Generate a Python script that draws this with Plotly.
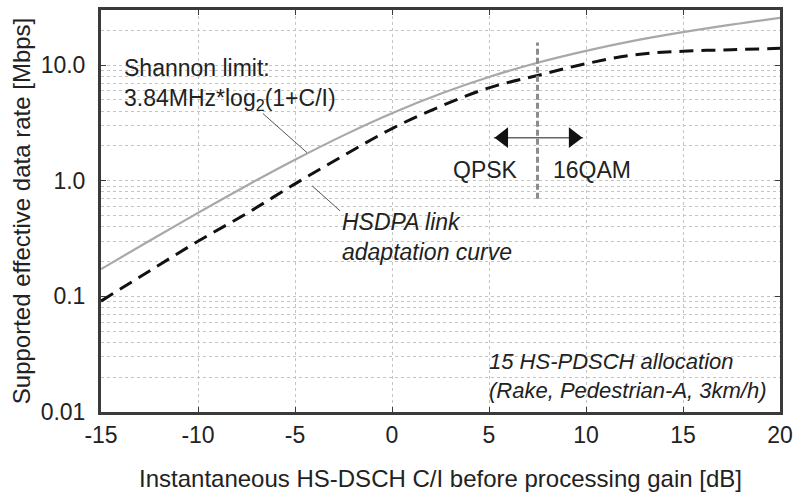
import numpy as np
import plotly.graph_objects as go

# ---- data ----
ci_db = [-15, -12.5, -10, -7.5, -5, -2.5, 0, 2.5, 5, 7.5, 10, 12.5, 15, 17.5, 20]
shannon_mbps = [0.172, 0.303, 0.528, 0.907, 1.52, 2.47, 3.84, 5.66, 7.90, 10.5, 13.3, 16.3, 19.3, 22.4, 25.6]
hsdpa_mbps = [0.091, 0.166, 0.30, 0.52, 0.94, 1.65, 2.83, 4.4, 6.37, 8.14, 10.3, 12.3, 13.2, 13.6, 14.0]

x_ticks = [-15, -10, -5, 0, 5, 10, 15, 20]
x_ticktext = ["-15", "-10", "-5", "0", "5", "10", "15", "20"]
y_ticks = [0.01, 0.1, 1.0, 10.0]
y_ticktext = ["0.01", "0.1", "1.0", "10.0"]

switch_db = 7.5            # QPSK / 16QAM boundary
switch_span = [0.70, 15.7]  # vertical extent of the boundary marker
arrow_x = [5.25, 9.85]
arrow_y = 2.36

FONT = "Liberation Sans, Arial, Helvetica, sans-serif"
TXT = "#222222"
FS_ANN = 23
FS_TICK = 23
FS_TITLE = 24

minor_vals = [m * 10.0 ** e for e in (-2, -1, 0, 1) for m in range(2, 10)]

fig = go.Figure()

# Shannon limit
fig.add_trace(go.Scatter(x=ci_db, y=shannon_mbps, mode="lines",
                         line=dict(color="#a8a8a8", width=2.2, shape="spline"),
                         hoverinfo="skip", showlegend=False))
# HSDPA link adaptation curve
fig.add_trace(go.Scatter(x=ci_db, y=hsdpa_mbps, mode="lines",
                         line=dict(color="#111111", width=3, dash="14px,8px", shape="spline"),
                         hoverinfo="skip", showlegend=False))

# QPSK/16QAM boundary
fig.add_trace(go.Scatter(x=[switch_db, switch_db], y=switch_span, mode="lines",
                         line=dict(color="#8c8c8c", width=3, dash="6px,3px"),
                         hoverinfo="skip", showlegend=False))
# double arrow
fig.add_trace(go.Scatter(x=arrow_x, y=[arrow_y, arrow_y], mode="lines",
                         line=dict(color="#666666", width=1.5),
                         hoverinfo="skip", showlegend=False))
fig.add_trace(go.Scatter(x=[arrow_x[0] + 0.5, arrow_x[1] - 0.5], y=[arrow_y, arrow_y], mode="markers",
                         marker=dict(symbol=["triangle-left", "triangle-right"], size=18,
                                     color="#111111"),
                         hoverinfo="skip", showlegend=False))

# leader lines
fig.add_trace(go.Scatter(x=[-6.65, -4.38], y=[3.81, 1.75], mode="lines",
                         line=dict(color="#555555", width=1),
                         hoverinfo="skip", showlegend=False))
fig.add_trace(go.Scatter(x=[-4.12, -2.68], y=[0.905, 0.55], mode="lines",
                         line=dict(color="#555555", width=1),
                         hoverinfo="skip", showlegend=False))

def ann(x, y, text, italic=False, xanchor="left", size=FS_ANN):
    fig.add_annotation(x=x, y=np.log10(y), text=text, showarrow=False,
                       xanchor=xanchor, yanchor="middle", align="left",
                       font=dict(family=FONT, size=size, color=TXT,
                                 style="italic" if italic else "normal"))

ann(-13.92, 10 ** 0.837, "Shannon limit:<br>3.84MHz*log<sub>2</sub>(1+C/I)")
ann(-2.68, 10 ** -0.486, "HSDPA link<br>adaptation curve", italic=True)
ann(4.9, 10 ** -1.691, "15 HS-PDSCH allocation<br>(Rake, Pedestrian-A, 3km/h)", italic=True, size=22)
ann(4.8, 1.25, "QPSK", xanchor="center")
ann(10.3, 1.25, "16QAM", xanchor="center")

axis_common = dict(showline=True, linecolor="#3a3a3a", linewidth=3, mirror="ticks",
                   ticks="inside", ticklen=5, tickcolor="#3a3a3a", tickwidth=1,
                   showgrid=True, gridcolor="#c4c4c4", gridwidth=1, griddash="dot",
                   zeroline=False, automargin=False,
                   tickfont=dict(family=FONT, size=FS_TICK, color=TXT))

fig.update_xaxes(range=[-15, 20], tickvals=x_ticks, ticktext=x_ticktext, **axis_common,
                 ticklabelstandoff=0,
                 title=dict(text="Instantaneous HS-DSCH C/I before processing gain [dB]",
                            font=dict(family=FONT, size=FS_TITLE, color=TXT), standoff=30))
fig.update_yaxes(type="log", range=[-2, np.log10(30)], tickvals=y_ticks, ticktext=y_ticktext,
                 minor=dict(tickvals=minor_vals, showgrid=True, gridcolor="#c4c4c4",
                            griddash="dot", ticks=""),
                 **axis_common, ticklabelstandoff=8,
                 title=dict(text="Supported effective data rate [Mbps]",
                            font=dict(family=FONT, size=FS_TITLE, color=TXT), standoff=4))

fig.update_layout(width=798, height=492, margin=dict(l=101, r=18, t=10, b=80),
                  paper_bgcolor="white", plot_bgcolor="white")

fig.write_html("out.html")
